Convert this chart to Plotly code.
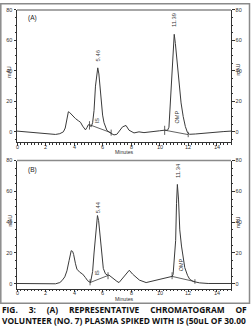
import plotly.graph_objects as go

W, H = 251, 330

# ---------------- data ----------------
# Panel A: volunteer plasma spiked with IS
time_a = [0.0, 0.5, 1.0, 1.5, 2.0, 2.4, 2.7, 3.0, 3.25, 3.38, 3.45, 3.52, 3.6, 3.68, 3.8, 3.95, 4.1, 4.3, 4.45, 4.6, 4.7,
          4.8, 4.9, 5.0, 5.1, 5.2, 5.3, 5.4, 5.5, 5.58, 5.66, 5.74, 5.82, 5.9, 6.0, 6.1, 6.3, 6.55, 6.8, 7.0, 7.2,
          7.4, 7.64, 7.85, 8.2, 8.55, 8.9, 9.55, 10.0, 10.35, 10.55, 10.65, 10.75, 10.85, 10.95, 11.02, 11.1, 11.2,
          11.35, 11.5, 11.65, 11.8, 11.95, 12.1, 12.5, 12.8, 13.4, 14.0, 14.5, 15.0]
mau_a = [0.5, 0.1, -0.3, -0.7, -1.1, -1.4, -1.7, -1.2, 0.0, 2.5, 6.5, 10.5, 13.2, 12.8, 11.5, 10.0, 8.7, 7.3, 6.3, 3.8, 2.2,
         1.3, 2.8, 4.7, 4.3, 3.4, 6.0, 14.0, 30.0, 38.5, 42.0, 38.0, 30.0, 20.0, 11.0, 6.0, 1.0, -0.8, -2.0, -1.6, 1.0,
         3.3, 4.2, 1.1, -0.7, 0.0, -0.5, 0.5, 0.7, 1.1, 1.0, 3.0, 22.0, 40.0, 56.0, 64.0, 58.0, 47.0,
         31.0, 19.0, 10.0, 3.5, -0.5, -1.6, -1.4, -1.1, -0.5, 0.0, 0.2, 0.5]

# Panel B: volunteer plasma after dosing
time_b = [0.0, 0.9, 1.6, 2.3, 2.7, 3.0, 3.15, 3.35, 3.5, 3.65, 3.8, 3.9, 3.97, 4.1, 4.2, 4.4, 4.6, 4.8, 4.95, 5.15,
          5.3, 5.4, 5.5, 5.58, 5.64, 5.72, 5.8, 5.87, 5.95, 6.05, 6.2, 6.35, 6.45, 6.6, 6.8, 7.0, 7.15, 7.4, 7.64,
          7.87, 8.1, 8.35, 8.58, 9.05, 9.76, 10.3, 10.7, 10.87, 10.94, 11.02, 11.12, 11.18, 11.24, 11.32, 11.41,
          11.53, 11.76, 11.95, 12.1, 12.35, 12.8, 13.4, 14.0, 15.0]
mau_b = [0.2, 0.2, 0.0, -0.2, 0.0, 0.8, 2.0, 4.5, 8.4, 15.0, 21.5, 21.0, 19.0, 13.0, 9.5, 7.5, 6.3, 4.0, 2.0, 0.8,
         8.0, 20.0, 32.0, 41.0, 44.3, 41.0, 33.0, 24.5, 16.0, 10.0, 6.5, 5.6, 5.6, 4.4, 3.0, 1.6, 0.8, 3.5, 6.3,
         8.8, 6.3, 4.2, 2.4, 0.8, 2.4, 3.4, 4.5, 4.8, 6.0, 14.0, 28.0, 52.0, 64.5, 55.0, 35.0,
         24.5, 10.5, 5.5, 3.0, 1.5, 0.6, 0.2, 0.2, 0.2]

# Integration baselines (start/end of each integrated peak)
base_is_a = ([5.08, 6.6], [4.7, -0.6])
base_omp_a = ([10.35, 12.0], [1.1, -1.8])
base_is_b = ([5.12, 6.38], [0.8, 5.4])
base_omp_b = ([10.87, 12.47], [4.8, 1.4])
# Integration event marks: (time, bottom, top)
marks_a = [(5.08, 1.5, 7.0), (6.6, -2.5, 1.5), (10.35, -2.0, 4.0), (12.0, -3.5, 0.0)]
marks_b = [(5.12, -1.0, 3.0), (6.38, 3.0, 7.5), (10.87, 3.0, 7.5), (12.47, 0.0, 3.0)]

# Peak labels: (time, mAU, text)
rt_labels_a = [(5.66, 50.0, "5.46"), (11.02, 73.5, "11.39")]
rt_labels_b = [(5.64, 50.0, "5.44"), (11.24, 73.5, "11.34")]
name_labels_a = [(5.62, 7.8, "IS"), (11.2, 10.0, "OMP")]
name_labels_b = [(5.6, 7.2, "IS"), (11.5, 12.0, "OMP")]

x_ticks = [0, 2, 4, 6, 8, 10, 12, 14]
y_ticks = [0, 20, 40, 60, 80]
x_range = [0, 15]
y_range_a = [-6.8, 80]
y_range_b = [-3.3, 80]

caption_words_1 = ["FIG.", "3:", "(A)", "REPRESENTATIVE", "CHROMATOGRAM", "OF"]
caption_line_2 = "VOLUNTEER (NO. 7) PLASMA SPIKED WITH IS (50uL OF 30.00"

# ---------------- figure ----------------
LINE = "#3a3a3a"
AX = "#333333"
TICKF = dict(family="Liberation Sans", size=5.5, color="#333")

fig = go.Figure()

def add_panel(xa, ya, ya_r, t, v, bases, marks):
    fig.add_trace(go.Scatter(x=t, y=v, mode="lines", line=dict(color=LINE, width=1),
                             xaxis=xa, yaxis=ya, showlegend=False, hoverinfo="skip"))
    for bx, by in bases:
        fig.add_trace(go.Scatter(x=bx, y=by, mode="lines", line=dict(color=LINE, width=0.8),
                                 xaxis=xa, yaxis=ya, showlegend=False, hoverinfo="skip"))
    for mx, m0, m1 in marks:
        fig.add_trace(go.Scatter(x=[mx, mx], y=[m0, m1], mode="lines", line=dict(color=LINE, width=0.8),
                                 xaxis=xa, yaxis=ya, showlegend=False, hoverinfo="skip"))
    # invisible trace so the right-hand axis is drawn
    fig.add_trace(go.Scatter(x=[t[0]], y=[v[0]], mode="markers", marker=dict(opacity=0),
                             xaxis=xa, yaxis=ya_r, showlegend=False, hoverinfo="skip"))

add_panel("x", "y", "y3", time_a, mau_a, [base_is_a, base_omp_a], marks_a)
add_panel("x2", "y2", "y4", time_b, mau_b, [base_is_b, base_omp_b], marks_b)

px = lambda p: p / W
py = lambda p: 1 - p / H

AX_A, AX_B = 140.5, 288.5
xdom = [px(17), px(231)]
ydom_a = [py(AX_A), py(7)]
ydom_b = [py(AX_B), py(159)]

xcommon = dict(range=x_range, tickvals=x_ticks, ticks="outside", ticklen=2.5, tickwidth=0.8, tickcolor=AX,
               showline=True, linecolor=AX, linewidth=1, showgrid=False, zeroline=False,
               showticklabels=False, domain=xdom,
               minor=dict(dtick=0.25, ticks="outside", ticklen=1.5, tickcolor=AX, tickwidth=0.6, showgrid=False))
ycommon = dict(tickvals=y_ticks, ticks="outside", ticklen=2.5, tickwidth=0.8, tickcolor=AX,
               showline=True, linecolor=AX, linewidth=1, showgrid=False, zeroline=False, tickfont=TICKF,
               minor=dict(dtick=5, ticks="outside", ticklen=1.2, tickcolor=AX, tickwidth=0.5, showgrid=False))

fig.update_layout(
    width=W, height=H, margin=dict(l=0, r=0, t=0, b=0),
    paper_bgcolor="white", plot_bgcolor="white",
    xaxis=dict(anchor="y", **xcommon),
    xaxis2=dict(anchor="y2", **xcommon),
    yaxis=dict(anchor="x", domain=ydom_a, range=y_range_a, **ycommon),
    yaxis2=dict(anchor="x2", domain=ydom_b, range=y_range_b, **ycommon),
    yaxis3=dict(anchor="x", overlaying="y", side="right", range=y_range_a, **ycommon),
    yaxis4=dict(anchor="x2", overlaying="y2", side="right", range=y_range_b, **ycommon),
)

# panel top borders (grey)
for yd in (ydom_a, ydom_b):
    fig.add_shape(type="line", xref="paper", yref="paper", x0=xdom[0], x1=xdom[1], y0=yd[1], y1=yd[1],
                  line=dict(color="#8a8a8a", width=1.5))
# outer frame
fig.add_shape(type="rect", xref="paper", yref="paper", x0=px(0.8), x1=px(249.5), y0=py(303), y1=py(0.8),
              line=dict(color="#8a8a8a", width=1.5))

ann = []
small = dict(family="Liberation Sans", size=5.2, color="#333")
for (xr, yr, labels_rt, labels_nm, letter, ly, unit_y_l, unit_y_r, axis_y) in [
        ("x", "y", rt_labels_a, name_labels_a, "(A)", 15, 70, 67, AX_A),
        ("x2", "y2", rt_labels_b, name_labels_b, "(B)", 169, 220, 221, AX_B)]:
    for t, v, s in labels_rt:
        ann.append(dict(x=t, y=v, xref=xr, yref=yr, text=s, textangle=-90, showarrow=False,
                        font=dict(family="Liberation Sans", size=5.8, color="#333")))
    for t, v, s in labels_nm:
        ann.append(dict(x=t, y=v, xref=xr, yref=yr, text=s, textangle=-90, showarrow=False,
                        font=dict(family="Liberation Sans", size=5.5, color="#333")))
    for t in x_ticks:
        ann.append(dict(x=t, y=py(axis_y + 4.5), xref=xr, yref="paper", text=str(t), showarrow=False,
                        yanchor="middle", font=TICKF))
    ann.append(dict(x=px(26), y=py(ly), xref="paper", yref="paper", text=letter, showarrow=False,
                    yanchor="middle", font=dict(family="Liberation Sans", size=6.5, color="#222")))
    ann.append(dict(x=px(4.5), y=py(unit_y_l), xref="paper", yref="paper", text="mAU", textangle=-90,
                    yanchor="middle", showarrow=False, font=small))
    ann.append(dict(x=px(243), y=py(unit_y_r), xref="paper", yref="paper", text="mAU", textangle=-90,
                    yanchor="middle", showarrow=False, font=small))
    ann.append(dict(x=px(124), y=py(axis_y + 9.8), xref="paper", yref="paper", text="Minutes",
                    yanchor="middle", showarrow=False, font=small))

# caption (bold, line 1 spread across the width)
cap_font = dict(family="Open Sans", size=8.4, color="#111")
sep = "&nbsp;" * 5
ann.append(dict(x=px(0.3), y=py(309), xref="paper", yref="paper", text="<b>%s</b>" % sep.join(caption_words_1),
                showarrow=False, xanchor="left", yanchor="middle", font=cap_font))
ann.append(dict(x=px(0.3), y=py(320.5), xref="paper", yref="paper", text="<b>%s</b>" % caption_line_2,
                showarrow=False, xanchor="left", yanchor="middle", font=cap_font))

fig.update_layout(annotations=ann)
fig.write_html("out.html")
